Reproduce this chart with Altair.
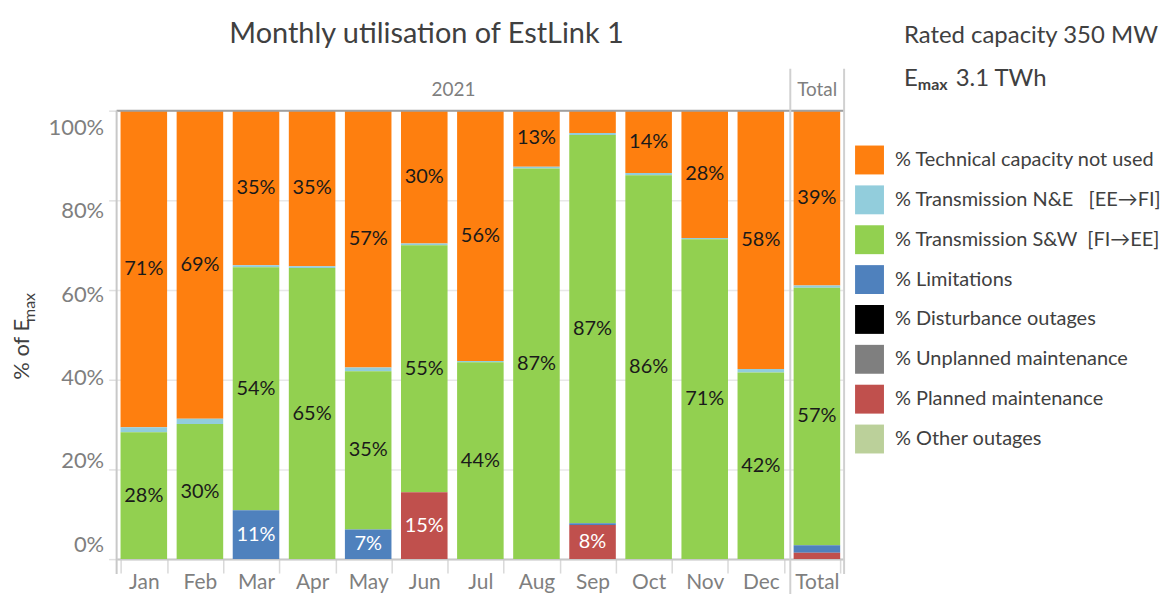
import altair as alt
import pandas as pd

months = ["Jan", "Feb", "Mar", "Apr", "May", "Jun", "Jul", "Aug", "Sep", "Oct", "Nov", "Dec", "Total"]

NB = "\u00a0"
categories = [
    "% Technical capacity not used",
    "% Transmission N&E" + NB * 3 + "[EE\u2192FI]",
    "% Transmission S&W" + NB * 2 + "[FI\u2192EE]",
    "% Limitations",
    "% Disturbance outages",
    "% Unplanned maintenance",
    "% Planned maintenance",
    "% Other outages",
]
colors = ["#FE7F0F", "#92CDDC", "#92D050", "#4F81BD", "#000000", "#7F7F7F", "#C0504D", "#BBD09A"]

tech_not_used = [70.6, 68.7, 34.6, 34.7, 57.3, 29.6, 55.8, 12.6, 5.1, 13.9, 28.4, 57.6, 39.0]
trans_ne = [1.1, 1.2, 0.4, 0.4, 0.8, 0.4, 0.3, 0.4, 0.4, 0.5, 0.3, 0.8, 0.5]
trans_sw = [28.3, 30.1, 54.2, 64.9, 35.3, 55.1, 43.9, 87.1, 86.6, 85.6, 71.3, 41.6, 57.4]
limitations = [0, 0, 10.9, 0, 6.6, 0, 0, 0, 0.4, 0, 0, 0, 1.7]
disturbance = [0, 0, 0, 0, 0, 0, 0, 0, 0, 0, 0, 0, 0]
unplanned = [0, 0, 0, 0, 0, 0, 0, 0, 0, 0, 0, 0, 0]
planned = [0, 0, 0, 0, 0, 14.9, 0, 0, 7.6, 0, 0, 0, 1.4]
other = [0, 0, 0, 0, 0, 0, 0, 0, 0, 0, 0, 0, 0]

series = [tech_not_used, trans_ne, trans_sw, limitations, disturbance, unplanned, planned, other]

title_text = "Monthly utilisation of EstLink 1"
rated_text = "Rated capacity 350 MW"
emax_E = "E"
emax_sub = "max"
emax_val = "3.1 TWh"
year_text = "2021"
total_text = "Total"
y_title_main = "% of E"
y_title_sub = "max"
y_ticks = [0, 20, 40, 60, 80, 100]

rows = []
for ci, cat in enumerate(categories):
    for mi, m in enumerate(months):
        rows.append({"month": m, "cat": cat, "value": series[ci][mi], "stackorder": len(categories) - ci})
df = pd.DataFrame(rows)

FONT = "Lato"
W, H = 730, 450

base = alt.Chart(df).transform_stack(
    stack="value", groupby=["month"], sort=[alt.SortField("stackorder", order="ascending")], as_=["v0", "v1"]
)

xenc = alt.X(
    "month:N",
    sort=months,
    scale=alt.Scale(paddingInner=0.17, paddingOuter=0.07),
    axis=alt.Axis(
        title=None, labelAngle=0, labelFontSize=21, labelColor="#7F7F7F", labelFont=FONT,
        tickBand="extent", tickSize=14, tickColor="#D9D9D9", tickWidth=1.5,
        domainColor="#C8C8C8", domainWidth=2, labelPadding=-2, grid=False,
    ),
)

bars = base.mark_bar().encode(
    x=xenc,
    y=alt.Y(
        "v0:Q",
        scale=alt.Scale(domain=[0, 100], clamp=True, nice=False),
        axis=alt.Axis(
            values=y_ticks, labelExpr="datum.value + '%'", domain=False,
            tickColor="#E0E0E0", tickSize=8, tickWidth=1.5, labelFontSize=22, labelColor="#7F7F7F",
            labelFont=FONT, gridColor="#E8E8E8", gridWidth=1.5, title=None, labelPadding=5,
            labelOffset={"expr": "-15 + 0.32 * datum.value"},
        ),
    ),
    y2="v1:Q",
    color=alt.Color(
        "cat:N",
        scale=alt.Scale(domain=categories, range=colors),
        legend=alt.Legend(
            title=None, orient="none", legendX=741, legendY=35, symbolType="square",
            symbolSize=841, symbolStrokeWidth=0, rowPadding=11, labelOffset=11,
            labelFontSize=20, labelColor="#404040", labelFont=FONT, labelLimit=400,
        ),
    ),
)

labels = base.transform_filter("datum.value >= 6").transform_calculate(
    mid="(datum.v0 + datum.v1) / 2", label="format(datum.value, '.0f') + '%'"
).mark_text(fontSize=20, font=FONT).encode(
    x=alt.X("month:N", sort=months),
    y=alt.Y("mid:Q"),
    text="label:N",
    color=alt.condition(
        "datum.cat == '% Limitations' || datum.cat == '% Planned maintenance'",
        alt.value("white"), alt.value("#1A1A1A"),
    ),
)

one = pd.DataFrame({"a": [0]})


def rule(x, y, y2=None, x2=None, color="#C8C8C8", width=2):
    enc = {"x": alt.value(x), "y": alt.value(y)}
    if y2 is not None:
        enc["y2"] = alt.value(y2)
    if x2 is not None:
        enc["x2"] = alt.value(x2)
    return alt.Chart(one).mark_rule(color=color, strokeWidth=width).encode(**enc)


def text(t, x, y, size, color="#404040", weight="normal", align="left", angle=0):
    return alt.Chart(pd.DataFrame({"t": [t]})).mark_text(
        fontSize=size, font=FONT, color=color, fontWeight=weight, align=align,
        baseline="alphabetic", angle=angle,
    ).encode(text="t:N", x=alt.value(x), y=alt.value(y))


rules = [
    rule(0, 0, x2=W, color="#A0A0A0", width=2),
    rule(0, 0, y2=465),
    rule(676, -42, y2=490, color="#D0D0D0"),
    rule(W, -42, y2=465, color="#D0D0D0"),
]

texts = [
    text(title_text, 311, -68, 29, align="center"),
    text(rated_text, 790, -68, 24),
    text(emax_E, 790, -25, 24),
    text(emax_sub, 804, -21, 16, weight="bold"),
    text(emax_val, 842, -25, 24),
    text(year_text, 338, -15, 19, color="#7F7F7F", align="center"),
    text(total_text, 703, -15, 19, color="#7F7F7F", align="center"),
    text(y_title_main, -88, 270, 22, angle=270),
    text(y_title_sub, -82, 212, 16, angle=270),
]

chart = alt.layer(bars, labels, *rules, *texts).properties(
    width=W, height=H, autosize="none",
    padding={"left": 109, "top": 102, "right": 320, "bottom": 34},
).configure_view(stroke=None)

chart.save("out.html", embed_options={"renderer": "svg", "actions": False})
